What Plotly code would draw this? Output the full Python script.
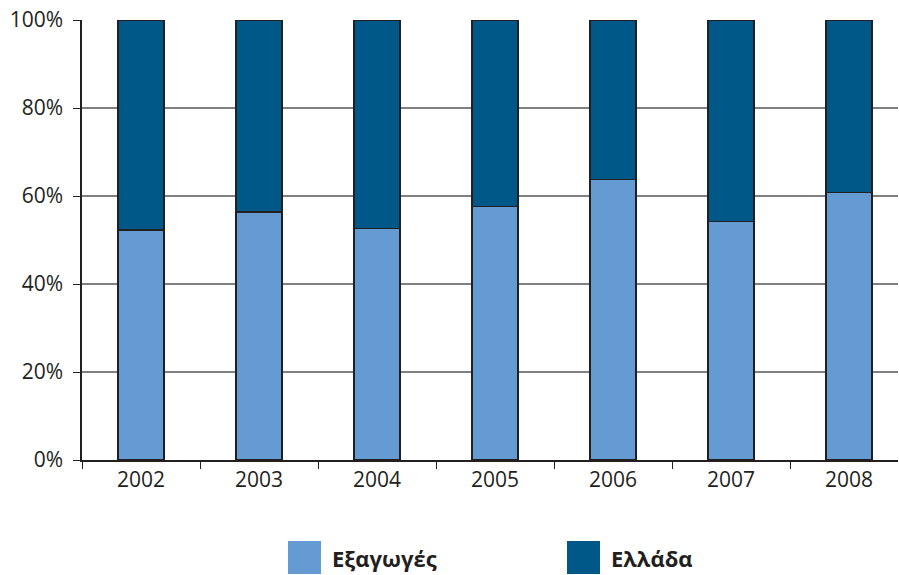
import plotly.graph_objects as go

years = ["2002", "2003", "2004", "2005", "2006", "2007", "2008"]
exports_pct = [52.3, 56.4, 52.6, 57.6, 63.7, 54.2, 60.8]
greece_pct = [round(100 - v, 1) for v in exports_pct]
series_names = ["Εξαγωγές", "Ελλάδα"]
colors = ["#639bd2", "#005889"]
y_ticks = [0, 20, 40, 60, 80, 100]
y_tick_labels = [f"{v}%" for v in y_ticks]

fig = go.Figure()
for name, vals, col in zip(series_names, [exports_pct, greece_pct], colors):
    fig.add_trace(go.Bar(
        x=years, y=vals, name=name, width=0.39,
        marker=dict(color=col, line=dict(color="#231f20", width=1.5)),
        showlegend=False,
    ))

# legend drawn as swatches + text
leg_x = [288, 567]
W, H = 899, 575
ml, mr, mt, mb = 82, 1, 20, 115
PW, PH = W - ml - mr, H - mt - mb
for name, col, lx in zip(series_names, colors, leg_x):
    fig.add_shape(type="rect", xref="paper", yref="paper",
                  x0=(lx - ml) / PW, x1=(lx + 33 - ml) / PW,
                  y0=(H - mb - 574) / PH, y1=(H - mb - 541) / PH,
                  fillcolor=col, line=dict(width=0))
    fig.add_annotation(xref="paper", yref="paper",
                       x=(lx + 42 - ml) / PW,
                       y=(H - mb - 557.5) / PH,
                       xanchor="left", yanchor="middle", showarrow=False,
                       text=f"<b>{name}</b>",
                       font=dict(family="Open Sans", size=22, color="#231f20"))

fig.update_layout(
    barmode="stack",
    width=W, height=H,
    margin=dict(l=ml, r=mr, t=mt, b=mb, pad=0),
    plot_bgcolor="white", paper_bgcolor="white",
    font=dict(family="Open Sans", size=21, color="#231f20"),
    bargap=0.61,
)
fig.update_xaxes(
    range=[-0.5, 6.415], showgrid=False,
    ticks="outside", tickson="boundaries", ticklen=7, tickwidth=1.2, tickcolor="#231f20",
    showline=True, linecolor="#231f20", linewidth=1.5,
    tickfont=dict(size=21),
)
fig.update_yaxes(
    range=[0, 100], tickvals=y_ticks, ticktext=y_tick_labels,
    showgrid=True, gridcolor="#808080", gridwidth=1.5,
    ticks="outside", ticklen=7, tickwidth=1.2, tickcolor="#231f20",
    showline=True, linecolor="#231f20", linewidth=1.5,
    zeroline=False, tickfont=dict(size=21), ticklabelstandoff=6,
)

fig.write_html("out.html", config={"displayModeBar": False},
               post_script="document.body.style.margin='0';document.body.style.overflow='hidden';")
